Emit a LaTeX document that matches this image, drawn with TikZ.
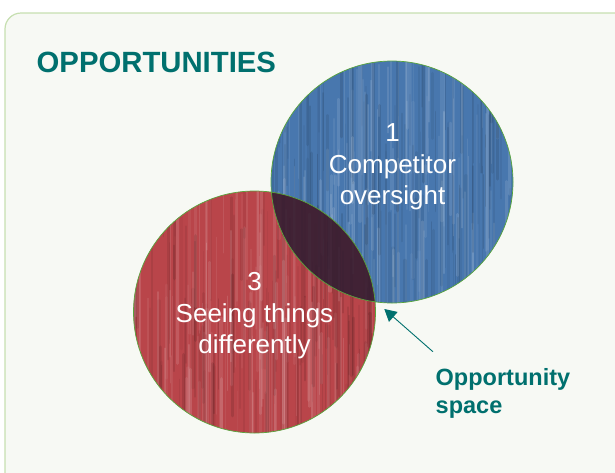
\documentclass[tikz,border=0pt]{standalone}
\usepackage{fontspec}
\setmainfont{Liberation Sans}
\usetikzlibrary{arrows.meta}

\definecolor{panel}{HTML}{F7F9F4}
\definecolor{panelline}{HTML}{C6DFB0}
\definecolor{oppteal}{HTML}{00706E}
\definecolor{bluefill}{HTML}{4877AE}
\definecolor{redfill}{HTML}{B9454A}
\definecolor{overlap}{HTML}{2E1D32}
\definecolor{rimgreen}{HTML}{58A53C}

% vertical streaks inside a circle: centre x, centre y, radius, count
\newcommand\woodgrain[4]{%
  \begin{scope}
    \clip (#1,#2) circle (#3pt);
    \foreach \i in {1,...,#4}{
      \pgfmathsetmacro\gx{#1-#3+2*#3*rnd}
      \pgfmathsetmacro\gy{#2-#3-40+2*#3*rnd}
      \pgfmathsetmacro\gl{50+150*rnd}
      \pgfmathsetmacro\go{0.04+0.09*rnd}
      \pgfmathsetmacro\gw{1+2.5*rnd}
      \draw[white, opacity=\go, line width=\gw pt] (\gx,\gy) -- (\gx,\gy+\gl);
      \pgfmathsetmacro\gx{#1-#3+2*#3*rnd}
      \pgfmathsetmacro\gy{#2-#3-40+2*#3*rnd}
      \pgfmathsetmacro\go{0.03+0.08*rnd}
      \draw[black, opacity=\go, line width=\gw pt] (\gx,\gy) -- (\gx,\gy+\gl);
    }
  \end{scope}}

\begin{document}
\begin{tikzpicture}[x=1pt, y=-1pt, line join=round, line cap=round,
    rim/.style={draw=rimgreen, line width=0.7pt},
    disc/.style={circle, inner sep=0pt, minimum size=242pt},
    inside/.style={text=white, align=center, inner sep=0pt,
      font=\fontsize{26}{31.5}\selectfont},
    heading/.style={text=oppteal, inner sep=0pt, font=\bfseries},
    pointer/.style={draw=oppteal, line width=0.9pt,
      -{Triangle[length=12pt,width=13pt]}}]
  \def\r{121}
  \pgfmathsetseed{7}
  \useasboundingbox (0,0) rectangle (615,472);
  \clip (0,0) rectangle (615,472);
  % panel
  \draw[fill=panel, draw=panelline, line width=1.2pt, rounded corners=16pt]
    (5,13) rectangle (650,510);
  \node[heading, anchor=base west, font=\bfseries\fontsize{29.3}{35}\selectfont]
    (title) at (36.5,72.7) {OPPORTUNITIES};
  % the two circles
  \node[disc, fill=bluefill] (blue) at (392,182) {};
  \woodgrain{392}{182}{\r}{120}
  \node[disc, fill=redfill] (red) at (254.5,312) {};
  \woodgrain{254.5}{312}{\r}{120}
  \begin{scope}
    \clip (red.center) circle (\r pt);
    \fill[overlap, opacity=0.86] (blue.center) circle (\r pt);
  \end{scope}
  \path[rim] (blue.center) circle (\r pt) (red.center) circle (\r pt);
  % texts
  \node[inside, anchor=north] (bluetext) at (392.5,123.7) {1\\Competitor\\oversight};
  \node[inside, anchor=north] (redtext) at (254.5,272.2) {3\\Seeing things\\differently};
  \node[heading, anchor=north west, align=left,
    font=\bfseries\fontsize{23.5}{28.3}\selectfont] (opp) at (435.5,368.4)
    {Opportunity\\space};
  \coordinate (gap) at (384.3,309);
  \coordinate (tail) at (432.7,351.5);
  \draw[pointer] (tail) -- (gap);
\end{tikzpicture}
\end{document}
